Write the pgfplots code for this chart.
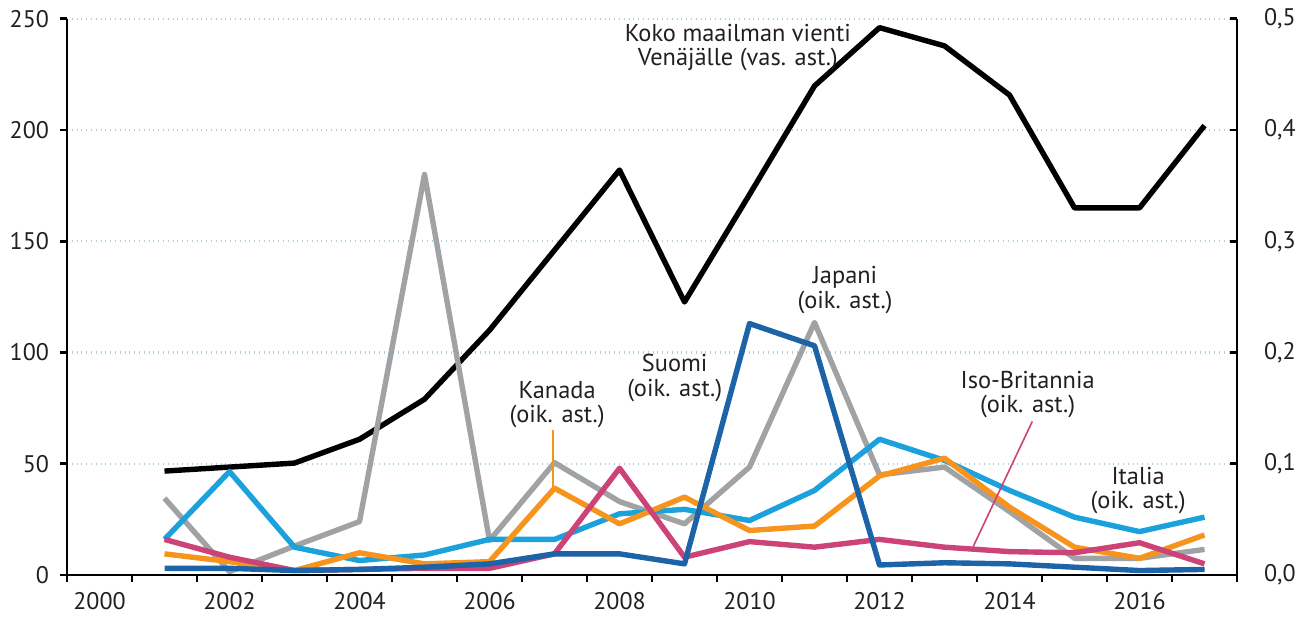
\documentclass[border=0pt]{standalone}
\usepackage{fontspec}
\setmainfont{PT Sans}
\usepackage{pgfplots}
\pgfplotsset{compat=1.18}
\definecolor{cblack}{HTML}{000000}
\definecolor{cgray}{HTML}{A0A2A3}
\definecolor{cdblue}{HTML}{1C63A8}
\definecolor{clblue}{HTML}{1BA1DC}
\definecolor{corange}{HTML}{F7941D}
\definecolor{cpink}{HTML}{CC4377}
\definecolor{cgrid}{HTML}{A9CFE0}
\definecolor{ctext}{HTML}{231F20}
\begin{document}
\begin{tikzpicture}
\pgfplotsset{
  base/.style={
    scale only axis, width=585pt, height=278.125pt,
    at={(33.5pt,24.5pt)}, anchor=south west,
    xmin=1999.5, xmax=2017.5,
    clip=false,
    tick label style={font=\fontsize{12}{13}\selectfont, text=ctext},
    /pgf/number format/assume math mode=true,
    axis line style={line width=1.3pt, -},
    tick style={line width=1.3pt, black},
    major tick length=3.5pt,
  },
  ser/.style={line width=2.7pt, mark=none, line join=round},
}
\begin{axis}[base,
  ymin=0, ymax=250,
  axis x line*=bottom, axis y line*=left,
  ytick={0,50,100,150,200,250},
  ymajorgrids, grid style={dotted, color=cgrid, line width=1.2pt},
  tick align=outside,
  xtick={1999.5,2000.5,...,2017.5}, xticklabels={},
  extra x ticks={2000,2002,2004,2006,2008,2010,2012,2014,2016},
  extra x tick labels={2000,2002,2004,2006,2008,2010,2012,2014,2016},
  extra x tick style={major tick length=0pt, xticklabel style={yshift=-5pt}},
  yticklabel style={xshift=-2pt},
]
\addplot[ser, color=cblack] coordinates {
(2001,46.7) (2002,48.5) (2003,50.3) (2004,61) (2005,79) (2006,110) (2007,146)
(2008,182) (2009,122.7) (2010,171) (2011,219.8) (2012,246) (2013,237.8)
(2014,215.7) (2015,165) (2016,165) (2017,202)};
\node[align=center, font=\fontsize{12.2}{12.2}\selectfont, text=ctext] at (axis cs:2009.82,237) {Koko maailman vienti\\Venäjälle (vas. ast.)};
\end{axis}
\begin{axis}[base,
  ymin=0, ymax=0.5,
  axis x line=none, axis y line*=right,
  ytick={0,0.1,0.2,0.3,0.4,0.5},
  tick align=inside,
  /pgf/number format/fixed, /pgf/number format/fixed zerofill,
  /pgf/number format/precision=1, /pgf/number format/use comma,
  yticklabel style={xshift=10pt},
]
\addplot[ser, color=cgray] coordinates {
(2001,0.069) (2002,0.003) (2003,0.026) (2004,0.048) (2005,0.360) (2006,0.031)
(2007,0.101) (2008,0.066) (2009,0.046) (2010,0.097) (2011,0.227) (2012,0.090)
(2013,0.097) (2014,0.057) (2015,0.015) (2016,0.015) (2017,0.023)};
\addplot[ser, color=clblue] coordinates {
(2001,0.032) (2002,0.093) (2003,0.025) (2004,0.013) (2005,0.018) (2006,0.032)
(2007,0.032) (2008,0.055) (2009,0.059) (2010,0.049) (2011,0.076) (2012,0.122)
(2013,0.103) (2014,0.076) (2015,0.052) (2016,0.039) (2017,0.052)};
\addplot[ser, color=corange] coordinates {
(2001,0.019) (2002,0.012) (2003,0.004) (2004,0.020) (2005,0.010) (2006,0.012)
(2007,0.078) (2008,0.046) (2009,0.070) (2010,0.040) (2011,0.044) (2012,0.089)
(2013,0.105) (2014,0.061) (2015,0.025) (2016,0.015) (2017,0.036)};
\addplot[ser, color=cpink] coordinates {
(2001,0.032) (2002,0.016) (2003,0.004) (2004,0.005) (2005,0.006) (2006,0.006)
(2007,0.019) (2008,0.096) (2009,0.016) (2010,0.030) (2011,0.025) (2012,0.032)
(2013,0.025) (2014,0.021) (2015,0.020) (2016,0.029) (2017,0.010)};
\addplot[ser, color=cdblue] coordinates {
(2001,0.006) (2002,0.006) (2003,0.004) (2004,0.005) (2005,0.007) (2006,0.010)
(2007,0.019) (2008,0.019) (2009,0.010) (2010,0.226) (2011,0.206) (2012,0.009)
(2013,0.011) (2014,0.010) (2015,0.007) (2016,0.004) (2017,0.005)};
\draw[corange, line width=0.8pt] (axis cs:2006.98,0.1306) -- (axis cs:2006.98,0.078);
\draw[cpink, line width=0.8pt] (axis cs:2014.35,0.138) -- (axis cs:2013.44,0.0254);
\tikzset{lab/.style={align=center, font=\fontsize{12.2}{12.2}\selectfont, text=ctext}}
\node[lab] at (axis cs:2011.47,0.256) {Japani\\(oik. ast.)};
\node[lab] at (axis cs:2008.85,0.177) {Suomi\\(oik. ast.)};
\node[lab] at (axis cs:2007.04,0.153) {Kanada\\(oik. ast.)};
\node[lab] at (axis cs:2014.28,0.162) {Iso-Britannia\\(oik. ast.)};
\node[lab] at (axis cs:2015.98,0.076) {Italia\\(oik. ast.)};
\end{axis}
\pgfresetboundingbox
\path (0,0) rectangle (654.5pt,312pt);
\end{tikzpicture}
\end{document}
